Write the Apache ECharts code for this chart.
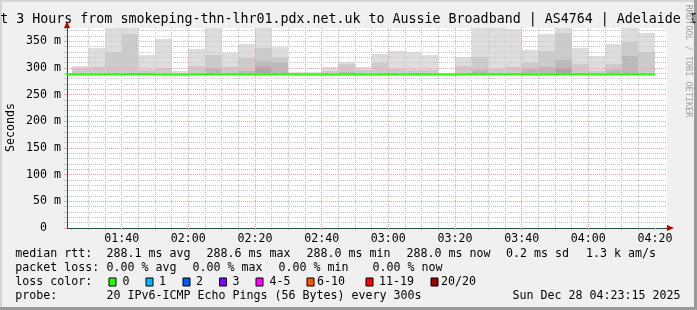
<!DOCTYPE html>
<html><head><meta charset="utf-8">
<script src="https://cdn.jsdelivr.net/npm/echarts@6/dist/echarts.min.js"></script>
<style>html,body{margin:0;padding:0;background:#f0f0f0}#c{width:697px;height:310px}</style>
</head><body><div id="c"></div>
<script>
// ---------------- data ----------------
const slots = ['01:20','01:25','01:30','01:35','01:40','01:45','01:50','01:55','02:00','02:05','02:10','02:15',
  '02:20','02:25','02:30','02:35','02:40','02:45','02:50','02:55','03:00','03:05','03:10','03:15',
  '03:20','03:25','03:30','03:35','03:40','03:45','03:50','03:55','04:00','04:05','04:10','04:15'];
const median = [288.1,288.0,288.1,288.2,288.6,288.1,288.0,288.0,288.1,288.2,288.1,288.0,
  288.3,288.1,288.0,288.0,288.0,288.1,288.0,288.1,288.0,288.1,288.0,288.0,
  288.1,288.2,288.1,288.1,288.0,288.1,288.2,288.1,288.0,288.1,288.2,288.0];
const pingMin = [288.0,287.9,287.9,288.0,288.0,287.9,287.9,287.9,288.0,288.0,287.9,287.9,
  288.0,288.0,287.9,287.9,287.9,288.0,287.9,287.9,287.9,288.0,287.9,287.9,
  288.0,288.0,287.9,288.0,287.9,288.0,288.0,287.9,287.9,288.0,288.0,287.9];
const smokeMax = [null,304,337,381,382,324,355,294,336,380,329,345,
  383,340,293,292,302,312,301,326,332,330,325,291,
  321,380,378,373,333,363,384,338,322,345,381,366];
const smokeBand1 = [null,300,302,330,364,297,300,null,304,324,301,319,
  337,321,null,null,295,307,297,309,298,297,296,null,
  304,320,298,301,310,331,366,307,294,307,348,330];
const smokeBand2 = [null,null,null,null,null,null,null,null,null,300,null,295,
  313,312,null,null,null,292,null,null,null,null,null,null,
  null,296,null,null,298,301,315,null,null,296,322,null];
const smokeBand3 = [null,null,null,null,null,null,null,null,null,null,null,null,
  301,null,null,null,null,null,null,null,null,null,null,null,
  null,null,null,null,null,null,300,null,null,null,null,null];
const stepMinutes = 5;
const windowStart = '01:23:36', windowEnd = '04:23:36';
const xTickLabels = ['01:40','02:00','02:20','02:40','03:00','03:20','03:40','04:00','04:20'];
const yTicks = [0,50,100,150,200,250,300,350];
const yMax = 375;
const lossLabels = ['0','1','2','3','4-5','6-10','11-19','20/20'];
const lossColors = ['#26ff00','#00b8ff','#0059ff','#7e00ff','#ff00ff','#ff5500','#ff0000','#a00000'];
const statsRtt = ['288.1 ms avg','288.6 ms max','288.0 ms min','288.0 ms now','0.2 ms sd','1.3 k am/s'];
const statsLoss = ['0.00 % avg','0.00 % max','0.00 % min','0.00 % now'];
const titleText = 't 3 Hours from smokeping-thn-lhr01.pdx.net.uk to Aussie Broadband | AS4764 | Adelaide I';
const probeText = '20 IPv6-ICMP Echo Pings (56 Bytes) every 300s';
const stampText = 'Sun Dec 28 04:23:15 2025';

// ---------------- helpers / styles ----------------
function toMin(s){const p=s.split(':').map(Number);return p[0]*60+p[1]+(p[2]||0)/60;}
function fmt(v){const h=Math.floor(v/60),m=Math.round(v-h*60);return String(h).padStart(2,'0')+':'+String(m).padStart(2,'0');}
const xMin = toMin(windowStart), xMax = toMin(windowEnd);
const MONO = '"DejaVu Sans Mono", monospace';
const smokeShades = ['#dddddd','#cbcbcb','#b9b9b9','#a9a9a9'];
const minorGrid = '#c8c8c8', majorGrid = '#f2a0a0', axisCol = '#2c4d43';

const smokeItems = [];
[smokeMax, smokeBand1, smokeBand2, smokeBand3].forEach(function(arr, lvl){
  arr.forEach(function(v, i){
    if (v != null) { const s = toMin(slots[i]); smokeItems.push([s, s + stepMinutes, pingMin[i], v, lvl]); }
  });
});
const medianLine = [];
median.forEach(function(m, i){ const s = toMin(slots[i]); medianLine.push([s, m], [s + stepMinutes, m]); });

const minorX = slots.map(toMin).concat([toMin(xTickLabels[xTickLabels.length-1])])
  .filter(function(v){return v >= xMin && v <= xMax;});
const majorX = xTickLabels.map(toMin);

// ---------------- graphics (text / legend) ----------------
const G = [];
// baseline-positioned text: convert baseline to em-middle
function txt(x, base, s, size){
  G.push({type:'text', x:x, y:base - 0.32*size, silent:true, z:20,
    style:{text:s, font:size+'px '+MONO, fill:'#000', align:'left', verticalAlign:'middle'}});
}
// frame shading
G.push({type:'rect', shape:{x:0,y:0,width:697,height:2}, style:{fill:'#d4d4d4'}, silent:true, z:1});
G.push({type:'rect', shape:{x:0,y:0,width:2,height:310}, style:{fill:'#d4d4d4'}, silent:true, z:1});
G.push({type:'rect', shape:{x:0,y:307,width:697,height:3}, style:{fill:'#9a9a9a'}, silent:true, z:1});
G.push({type:'rect', shape:{x:694,y:0,width:3,height:310}, style:{fill:'#9a9a9a'}, silent:true, z:1});
// title
txt(0.3, 23.5, titleText, 13.3);
// watermark
G.push({type:'text', x:688.5, y:61, rotation:-Math.PI/2, silent:true, z:20,
  style:{text:'RRDTOOL / TOBI OETIKER', font:'8.5px '+MONO, fill:'#a0a0a0', align:'center', verticalAlign:'middle'}});
// y axis name
G.push({type:'text', x:10.5, y:127.5, rotation:Math.PI/2, silent:true, z:20,
  style:{text:'Seconds', font:'11.63px '+MONO, fill:'#000', align:'center', verticalAlign:'middle'}});
// arrows
G.push({type:'polygon', shape:{points:[[64,28],[70,28],[67,21]]}, style:{fill:'#c00000'}, silent:true, z:20});
G.push({type:'polygon', shape:{points:[[667,225],[667,231],[674,228]]}, style:{fill:'#c00000'}, silent:true, z:20});
// legend lines
const F = 11.63;
txt(15.3, 257.5, 'median rtt:', F);
[106.5,206.5,306.5,406.5,506,586].forEach(function(x,i){ txt(x, 257.5, statsRtt[i], F); });
txt(15.3, 271.5, 'packet loss:', F);
[106.5,192.5,278.5,372.5].forEach(function(x,i){ txt(x, 271.5, statsLoss[i], F); });
txt(15.3, 285.5, 'loss color:', F);
const boxX = [109,146,183,219.5,256,307,366,431];
const labX = [122.5,159,196,232.5,269.5,317,379,441];
lossLabels.forEach(function(l,i){
  G.push({type:'rect', shape:{x:boxX[i], y:278, width:7, height:8}, style:{fill:lossColors[i], stroke:'#000', lineWidth:1}, silent:true, z:20});
  txt(labX[i], 285.5, l, F);
});
txt(15.3, 299.5, 'probe:', F);
txt(106.5, 299.5, probeText, F);
txt(512.5, 299.5, stampText, F);

// ---------------- chart ----------------
const chart = echarts.init(document.getElementById('c'), null, {renderer:'canvas'});
chart.setOption({
  animation:false,
  backgroundColor:'#f0f0f0',
  grid:{left:67, right:30, top:28, bottom:82, show:true, backgroundColor:'#ffffff', borderWidth:0, containLabel:false},
  xAxis:[
    {type:'value', min:xMin, max:xMax, position:'bottom', z:3,
     axisLine:{show:false}, axisLabel:{show:false},
     axisTick:{show:true, customValues:minorX, length:2, lineStyle:{color:minorGrid}},
     splitLine:{show:true, showMinLine:false, showMaxLine:false, lineStyle:{color:minorGrid, type:[1,1], width:1}}},
    {type:'value', min:xMin, max:xMax, position:'bottom', z:4,
     axisLine:{show:true, onZero:false, lineStyle:{color:axisCol, width:1}},
     axisTick:{show:true, customValues:majorX, length:2, lineStyle:{color:majorGrid}},
     axisLabel:{show:true, customValues:majorX, formatter:function(v){return fmt(v);}, margin:5,
       fontFamily:MONO, fontSize:11.63, color:'#000'},
     splitLine:{show:true, showMinLine:false, showMaxLine:false, lineStyle:{color:majorGrid, type:[1,1], width:1}}}
  ],
  yAxis:[
    {type:'value', min:0, max:yMax, interval:10, position:'left', z:3,
     axisLine:{show:false}, axisLabel:{show:false},
     axisTick:{show:true, length:3, lineStyle:{color:minorGrid}},
     splitLine:{show:true, showMinLine:false, showMaxLine:false, lineStyle:{color:minorGrid, type:[1,1], width:1}}},
    {type:'value', min:0, max:yMax, interval:50, position:'left', z:4,
     axisLine:{show:true, onZero:false, lineStyle:{color:axisCol, width:1}},
     axisTick:{show:true, length:3, customValues:yTicks, lineStyle:{color:majorGrid}},
     axisLabel:{show:true, customValues:yTicks, margin:6, fontFamily:MONO, fontSize:11.63, color:'#000',
       formatter:function(v){ if (yTicks.indexOf(v) < 0) return ''; return v === 0 ? '0  ' : v + ' m'; }},
     splitLine:{show:true, showMinLine:false, showMaxLine:false, lineStyle:{color:majorGrid, type:[1,1], width:1}}}
  ],
  series:[
    {type:'custom', name:'smoke', xAxisIndex:0, yAxisIndex:0, z:1, clip:true, silent:true,
     encode:{x:[0,1], y:[2,3]}, data:smokeItems,
     renderItem:function(params, api){
       const p0 = api.coord([api.value(0), api.value(3)]);
       const p1 = api.coord([api.value(1), api.value(2)]);
       const cs = params.coordSys;
       const x0 = Math.round(p0[0]), x1 = Math.round(p1[0]);
       const y0 = Math.round(p0[1]), y1 = Math.round(p1[1]);
       const shape = echarts.graphic.clipRectByRect({x:x0, y:y0, width:x1-x0, height:y1-y0},
         {x:cs.x, y:cs.y, width:cs.width, height:cs.height});
       if (!shape) return;
       return {type:'rect', shape:shape, style:{fill:smokeShades[api.value(4)]}};
     }},
    {type:'line', name:'median rtt', xAxisIndex:0, yAxisIndex:0, z:6, data:medianLine,
     symbol:'none', showSymbol:false, clip:true, silent:true,
     lineStyle:{color:lossColors[0], width:2}}
  ],
  graphic:G
});
</script></body></html>
